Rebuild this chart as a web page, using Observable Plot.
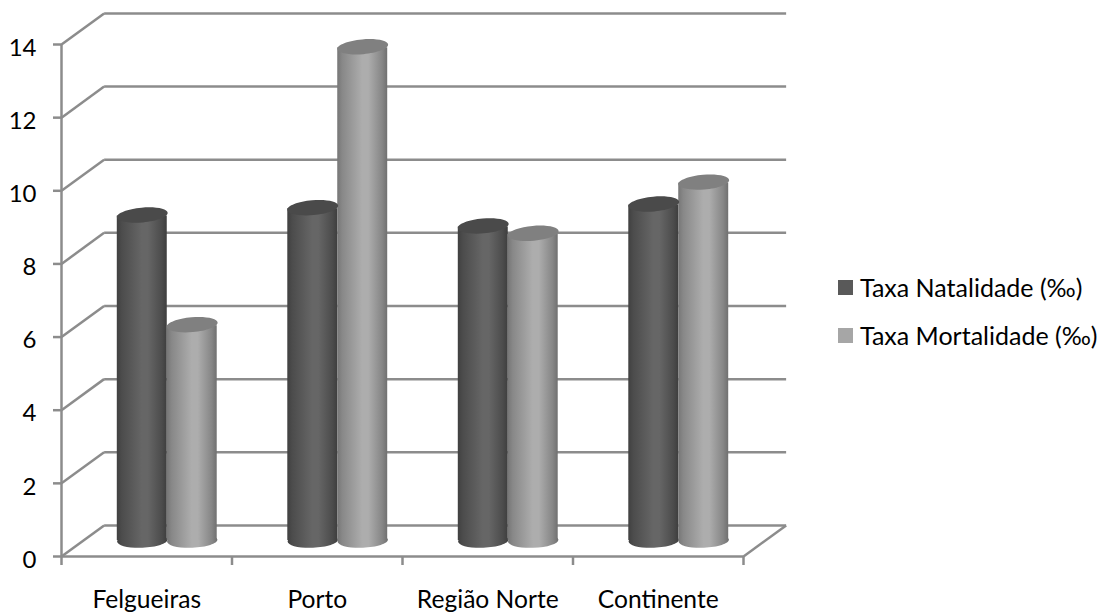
<!DOCTYPE html>
<html lang="pt">
<head>
<meta charset="utf-8">
<script src="https://cdn.jsdelivr.net/npm/d3@7"></script>
<script src="https://cdn.jsdelivr.net/npm/@observablehq/plot@0.6"></script>
<style>
  html, body { margin: 0; background: #fff; }
  #chart { position: relative; width: 1102px; height: 613px; overflow: hidden; font-family: Lato, sans-serif; color: #000; }
  #chart svg { display: block; background: transparent; }
  .legend { position: absolute; left: 838px; display: flex; align-items: center; font-size: 25px; line-height: 1; white-space: nowrap; }
  .legend i { display: block; width: 15px; height: 15px; margin-right: 7px; }
</style>
</head>
<body>
<div id="chart"></div>
<script>
// Birth and death rates per thousand inhabitants, by territory
const regions = ["Felgueiras", "Porto", "Região Norte", "Continente"];
const natalidade = [8.9, 9.1, 8.6, 9.2];
const mortalidade = [5.9, 13.5, 8.4, 9.8];
const yTicks = [0, 2, 4, 6, 8, 10, 12, 14];
const xTicks = [0, 1, 2, 3, 4];
const seriesNames = ["Taxa Natalidade (‰)", "Taxa Mortalidade (‰)"];

const lineColor = "#8c8c8c";
const lineWidth = 2.5;
// Depth of the floor and side wall, in scale units
const depthX = 0.25, depthY = 0.85;
// Column width in category units; columns sit halfway into the depth
const columnWidth = 0.293;
const midDepth = {dx: 20.5, dy: -16};

// Flattened ellipse used for column caps and bases, tilted by the given angle
const ellipse = degrees => ({
  draw(ctx, size) {
    const r = Math.sqrt(size / Math.PI), ry = r * 0.29, a = degrees * Math.PI / 180, k = 0.5523;
    const p = (x, y) => [x * Math.cos(a) - y * Math.sin(a), x * Math.sin(a) + y * Math.cos(a)];
    const curve = (x1, y1, x2, y2, x, y) => ctx.bezierCurveTo(...p(x1, y1), ...p(x2, y2), ...p(x, y));
    ctx.moveTo(...p(r, 0));
    curve(r, k * ry, k * r, ry, 0, ry);
    curve(-k * r, ry, -r, k * ry, -r, 0);
    curve(-r, -k * ry, -k * r, -ry, 0, -ry);
    curve(k * r, -ry, r, -k * ry, r, 0);
    ctx.closePath();
  }
});

// Horizontal shading that gives the columns their round look
function shading(id, stops) {
  const g = d3.create("svg:linearGradient").attr("id", id);
  stops.forEach(([o, c]) => g.append("stop").attr("offset", o).attr("stop-color", c));
  return g.node();
}
function gradients() {
  const defs = d3.create("svg:defs");
  defs.append(() => shading("bodydark", [[0, "#404040"], [0.1, "#4c4c4c"], [0.5, "#666666"], [0.62, "#666666"], [0.9, "#4c4c4c"], [1, "#3e3e3e"]]));
  defs.append(() => shading("bodylight", [[0, "#767676"], [0.1, "#888888"], [0.5, "#adadad"], [0.62, "#adadad"], [0.9, "#868686"], [1, "#707070"]]));
  return defs.node();
}

const rows = regions.flatMap((region, i) => [
  {x1: i + 0.5 - columnWidth, x2: i + 0.5, x: i + 0.5 - columnWidth / 2, value: natalidade[i], body: "url(#bodydark)", cap: "#4a4a4a"},
  {x1: i + 0.5, x2: i + 0.5 + columnWidth, x: i + 0.5 + columnWidth / 2, value: mortalidade[i], body: "url(#bodylight)", cap: "#808080"}
]);
const lines = {stroke: lineColor, strokeWidth: lineWidth};

const plot = Plot.plot({
  width: 1102,
  height: 613,
  marginLeft: 61,
  marginRight: 359,
  marginTop: 44,
  marginBottom: 57,
  style: {fontFamily: "Lato, sans-serif", fontSize: "24.6px", color: "#000", background: "transparent"},
  x: {type: "linear", domain: [0, 4], axis: null},
  y: {type: "linear", domain: [0, 14], axis: null},
  marks: [
    gradients,
    // back wall gridlines
    Plot.link(yTicks, {x1: depthX, x2: 4 + depthX, y1: d => d + depthY, y2: d => d + depthY, ...lines}),
    // side wall and floor diagonals
    Plot.link(yTicks, {x1: 0, x2: depthX, y1: d => d, y2: d => d + depthY, ...lines}),
    Plot.link([4], {x1: d => d, x2: d => d + depthX, y1: 0, y2: depthY, ...lines}),
    // front axes
    Plot.ruleX([0], {y1: 0, y2: 14, ...lines}),
    Plot.ruleY([0], {x1: 0, x2: 4, ...lines}),
    Plot.axisY({ticks: yTicks, tickSize: 8, stroke: lineColor, strokeWidth: lineWidth, tickFormat: () => "", label: null}),
    Plot.axisX({ticks: xTicks, tickSize: 9, stroke: lineColor, strokeWidth: lineWidth, tickFormat: () => "", label: null}),
    Plot.text(yTicks, {x: 0, y: d => d, text: d => String(d), dx: -25, dy: 3.5, textAnchor: "end", fontSize: 24, fill: "#000"}),
    // columns: base, body, then cap
    Plot.dot(rows, {x: "x", y: 0, r: 25.2, symbol: ellipse(-2), fill: "body", stroke: "none", ...midDepth}),
    Plot.rect(rows, {x1: "x1", x2: "x2", y1: 0, y2: "value", fill: "body", insetTop: 1, ...midDepth}),
    Plot.dot(rows, {x: "x", y: "value", r: 25.5, symbol: ellipse(-5), fill: "cap", stroke: "none", ...midDepth}),
    // category names below the floor
    Plot.text(regions, {x: (d, i) => i + 0.5, y: 0, text: d => d, dy: 44, fontSize: 24.6, fill: "#000"})
  ]
});

const chart = document.getElementById("chart");
chart.append(plot);

// Legend beside the plot
const swatches = ["#595959", "#a6a6a6"];
const legendTops = [275, 323];
seriesNames.forEach((name, i) => {
  const row = document.createElement("div");
  row.className = "legend";
  row.style.top = legendTops[i] + "px";
  const sw = document.createElement("i");
  sw.style.background = swatches[i];
  row.append(sw, name);
  chart.append(row);
});
</script>
</body>
</html>
